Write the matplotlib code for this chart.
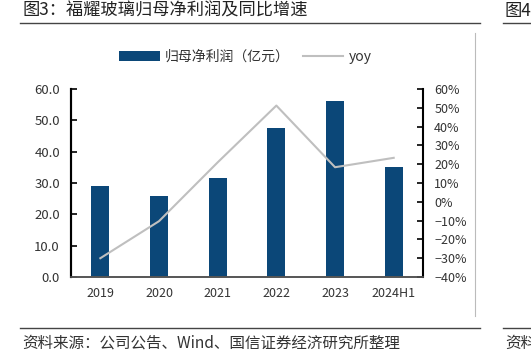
import matplotlib
matplotlib.use('Agg')
import matplotlib.pyplot as plt
from matplotlib.lines import Line2D
from matplotlib.patches import Patch
from matplotlib.ticker import FuncFormatter

plt.rcParams['font.family'] = ['Noto Sans CJK SC', 'DejaVu Sans']
plt.rcParams['axes.unicode_minus'] = True

# data
years = ['2019', '2020', '2021', '2022', '2023', '2024H1']
profit = [29.0, 26.0, 31.5, 47.6, 56.3, 35.0]       # 亿元
yoy = [-30.0, -10.3, 21.0, 51.2, 18.4, 23.4]        # %

title = '图3：福耀玻璃归母净利润及同比增速'
source = '资料来源：公司公告、Wind、国信证券经济研究所整理'

bar_color = '#0B4778'
line_color = '#BFBFBF'
text_color = '#333333'

fig = plt.figure(figsize=(5.31, 3.54), dpi=100)
ax1 = fig.add_axes([0.1337, 0.2175, 0.663, 0.531])
ax2 = ax1.twinx()

x = range(len(years))
ax1.bar(x, profit, width=0.31, color=bar_color, zorder=2)
ax2.plot(x, yoy, color=line_color, linewidth=1.5)

# left axis
ax1.set_xlim(-0.5, len(years) - 0.5)
ax1.set_ylim(0, 60)
ax1.set_yticks(range(0, 61, 10))
ax1.yaxis.set_major_formatter(FuncFormatter(lambda v, p: '{:.1f}'.format(v)))
ax1.set_xticks(list(x))
ax1.set_xticklabels(years)
ax1.tick_params(axis='x', length=0, pad=7, labelsize=9, labelcolor=text_color)
ax1.tick_params(axis='y', direction='in', length=4, width=1.2, pad=8,
                labelsize=9.5, labelcolor=text_color)

# right axis
ax2.set_ylim(-40, 60)
ax2.set_yticks(range(-40, 61, 10))
ax2.yaxis.set_major_formatter(FuncFormatter(lambda v, p: '{:d}%'.format(int(v)).replace('-', '\u2212')))
ax2.tick_params(axis='y', direction='in', length=4, width=1.2, pad=8,
                labelsize=9, labelcolor=text_color)

for a in (ax1, ax2):
    a.spines['top'].set_visible(False)
    a.spines['left'].set_linewidth(1.5)
    a.spines['right'].set_linewidth(1.5)
    a.spines['bottom'].set_color('#555555')
    a.spines['bottom'].set_linewidth(1.2)
ax1.spines['right'].set_visible(False)

# legend
handles = [Patch(facecolor=bar_color, edgecolor='none'),
           Line2D([0], [0], color=line_color, linewidth=1.5)]
fig.legend(handles, ['归母净利润（亿元）', 'yoy'], ncol=2, frameon=False,
           loc='center', bbox_to_anchor=(0.462, 1 - 57 / 354),
           fontsize=10, handlelength=2.9, handletextpad=0.4,
           columnspacing=0.9, labelcolor=text_color)

# title, rules and source note
fig.text(22 / 531, 1 - 11 / 354, title, fontsize=12.4, color='#222222',
         ha='left', va='center')
fig.text(505 / 531, 1 - 11 / 354, '图4', fontsize=12.4, color='#222222',
         ha='left', va='center')
fig.add_artist(Line2D([20 / 531, 480 / 531], [1 - 23 / 354] * 2,
                      color='#444444', linewidth=1.0))
fig.add_artist(Line2D([503 / 531, 1.0], [1 - 23 / 354] * 2,
                      color='#444444', linewidth=1.0))
fig.add_artist(Line2D([475 / 531] * 2, [1 - 33 / 354, 1 - 316 / 354],
                      color='#BBBBBB', linewidth=0.8))
fig.add_artist(Line2D([20 / 531, 480 / 531], [1 - 328 / 354] * 2,
                      color='#444444', linewidth=1.0))
fig.add_artist(Line2D([503 / 531, 1.0], [1 - 328 / 354] * 2,
                      color='#444444', linewidth=1.0))
fig.text(22 / 531, 1 - 343 / 354, source, fontsize=11.2, color=text_color,
         ha='left', va='center')
fig.text(505 / 531, 1 - 343 / 354, '资料', fontsize=11.2, color=text_color,
         ha='left', va='center')

fig.savefig('out.png', dpi=100)
